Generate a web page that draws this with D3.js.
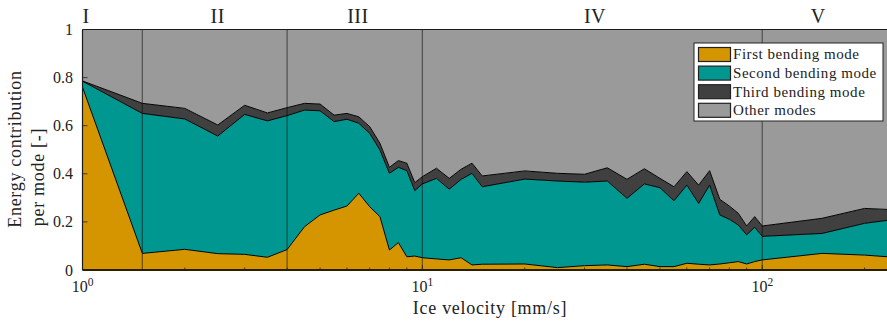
<!DOCTYPE html>
<html>
<head>
<meta charset="utf-8">
<script src="https://cdn.jsdelivr.net/npm/d3@7"></script>
<style>
  html, body { margin: 0; padding: 0; background: #fff; }
  svg { display: block; }
  text { font-family: "Liberation Serif", "DejaVu Serif", serif; fill: #222; }
</style>
</head>
<body>
<svg id="chart" width="887" height="322"></svg>
<script>
// Ice velocity samples [mm/s]
const velocity = [1, 1.5, 2, 2.5, 3, 3.5, 4, 4.5, 5, 5.5, 6, 6.5, 7, 7.5, 8, 8.5, 9, 9.5,
  10, 11, 12, 13, 14, 15, 20, 25, 30, 35, 40, 45, 50, 55, 60, 65, 70, 75, 80, 85, 90, 95,
  100, 150, 200, 250];

// Energy contribution per mode [-]
const firstMode = [0.760, 0.069, 0.086, 0.068, 0.065, 0.053, 0.085, 0.180, 0.229, 0.249, 0.266, 0.319,
  0.263, 0.222, 0.083, 0.114, 0.055, 0.058, 0.051, 0.046, 0.042, 0.051, 0.021, 0.024, 0.025,
  0.010, 0.018, 0.021, 0.014, 0.024, 0.014, 0.014, 0.028, 0.024, 0.021, 0.025, 0.030, 0.035,
  0.025, 0.035, 0.042, 0.069, 0.062, 0.052];
const secondMode = [0.025, 0.582, 0.542, 0.489, 0.582, 0.567, 0.557, 0.485, 0.433, 0.368, 0.361, 0.291,
  0.305, 0.277, 0.319, 0.313, 0.358, 0.272, 0.307, 0.335, 0.294, 0.326, 0.381, 0.322, 0.353,
  0.360, 0.347, 0.349, 0.284, 0.334, 0.328, 0.274, 0.325, 0.253, 0.332, 0.204, 0.181, 0.152,
  0.121, 0.143, 0.098, 0.083, 0.132, 0.160];
const thirdMode = [0.001, 0.042, 0.044, 0.046, 0.038, 0.033, 0.033, 0.028, 0.028, 0.027, 0.024, 0.027,
  0.028, 0.028, 0.025, 0.028, 0.031, 0.033, 0.030, 0.042, 0.045, 0.042, 0.042, 0.045, 0.034,
  0.032, 0.033, 0.055, 0.079, 0.063, 0.039, 0.058, 0.056, 0.076, 0.060, 0.065, 0.055, 0.049,
  0.037, 0.044, 0.043, 0.063, 0.062, 0.038];
const otherModes = [0.214, 0.307, 0.328, 0.397, 0.315, 0.347, 0.325, 0.307, 0.310, 0.356, 0.349, 0.363,
  0.404, 0.473, 0.573, 0.545, 0.556, 0.637, 0.612, 0.577, 0.619, 0.581, 0.556, 0.609, 0.588,
  0.598, 0.602, 0.575, 0.623, 0.579, 0.619, 0.654, 0.591, 0.647, 0.587, 0.706, 0.734, 0.764,
  0.817, 0.778, 0.817, 0.785, 0.744, 0.750];

const seriesNames = ["First bending mode", "Second bending mode", "Third bending mode", "Other modes"];
const seriesColors = ["#d49500", "#009790", "#404040", "#9a9a9a"];

// Regime boundaries and regime labels
const regimeBounds = [1.5, 4, 10, 100];
const regimeLabels = ["I", "II", "III", "IV", "V"];
const regimeLabelAt = [1.024, 2.5, 6.46, 32.2, 146];

const yTicks = [0, 0.2, 0.4, 0.6, 0.8, 1];
const yTickLabels = ["0", "0.2", "0.4", "0.6", "0.8", "1"];
const xTicks = [1, 10, 100];
const xTickExp = ["0", "1", "2"];

const svg = d3.select("#chart");
const pLeft = 82.5, pRight = 897.5, pTop = 29.5, pBottom = 270;

const x = d3.scaleLog().domain([1, 250]).range([pLeft, pRight]);
const y = d3.scaleLinear().domain([0, 1]).range([pBottom, pTop]);

const rows = velocity.map((v, i) => ({
  v, s0: firstMode[i], s1: secondMode[i], s2: thirdMode[i], s3: otherModes[i]
}));
const keys = ["s0", "s1", "s2", "s3"];
const stacked = d3.stack().keys(keys)(rows);

svg.append("defs").append("clipPath").attr("id", "plotclip")
  .append("rect").attr("x", pLeft).attr("y", pTop).attr("width", pRight - pLeft).attr("height", pBottom - pTop);

const plot = svg.append("g").attr("clip-path", "url(#plotclip)");

const area = d3.area()
  .x(d => x(d.data.v))
  .y0(d => y(d[0]))
  .y1(d => y(d[1]));

plot.selectAll("path.layer")
  .data(stacked)
  .join("path")
  .attr("class", "layer")
  .attr("d", area)
  .attr("fill", (d, i) => seriesColors[i]);

// Boundary lines between stacked layers
const edge = d3.line().x(d => x(d.data.v)).y(d => y(d[1]));
plot.selectAll("path.edge")
  .data(stacked.slice(0, 3))
  .join("path")
  .attr("class", "edge")
  .attr("d", edge)
  .attr("fill", "none")
  .attr("stroke", "#000")
  .attr("stroke-width", 1)
  .attr("stroke-linejoin", "round");

// Regime boundaries
plot.selectAll("line.regime")
  .data(regimeBounds)
  .join("line")
  .attr("class", "regime")
  .attr("x1", d => x(d)).attr("x2", d => x(d))
  .attr("y1", pTop).attr("y2", pBottom)
  .attr("stroke", "#000")
  .attr("stroke-opacity", 0.45)
  .attr("stroke-width", 1.3);

// Frame
svg.append("line").attr("x1", pLeft).attr("x2", 887).attr("y1", pTop).attr("y2", pTop)
  .attr("stroke", "#1a1a1a").attr("stroke-width", 1.2);
svg.append("line").attr("x1", pLeft).attr("x2", pLeft).attr("y1", pTop).attr("y2", pBottom)
  .attr("stroke", "#1a1a1a").attr("stroke-width", 1.2);
svg.append("line").attr("x1", pLeft).attr("x2", 887).attr("y1", pBottom).attr("y2", pBottom)
  .attr("stroke", "#2a1f00").attr("stroke-width", 2);

// Minor log ticks along the bottom
const minor = [];
[1, 10, 100].forEach(dec => { for (let k = 2; k <= 9; k++) if (dec * k <= 250) minor.push(dec * k); });
svg.selectAll("line.minor").data(minor).join("line").attr("class", "minor")
  .attr("x1", d => x(d)).attr("x2", d => x(d))
  .attr("y1", pBottom).attr("y2", pBottom - 2.5)
  .attr("stroke", "#222").attr("stroke-width", 0.8);
svg.selectAll("line.major").data(xTicks).join("line").attr("class", "major")
  .attr("x1", d => x(d)).attr("x2", d => x(d))
  .attr("y1", pBottom).attr("y2", pBottom - 5)
  .attr("stroke", "#222").attr("stroke-width", 0.8);
svg.selectAll("line.ytick").data(yTicks).join("line").attr("class", "ytick")
  .attr("x1", pLeft).attr("x2", pLeft + 5)
  .attr("y1", d => y(d)).attr("y2", d => y(d))
  .attr("stroke", "#222").attr("stroke-width", 0.8);

// Y tick labels
svg.selectAll("text.ylab").data(yTicks).join("text").attr("class", "ylab")
  .attr("x", 73).attr("y", d => y(d) + 5.5)
  .attr("text-anchor", "end")
  .attr("font-size", 16)
  .text((d, i) => yTickLabels[i]);

// X tick labels (powers of ten)
const xl = svg.selectAll("text.xlab").data(xTicks).join("text").attr("class", "xlab")
  .attr("x", d => x(d)).attr("y", 292)
  .attr("text-anchor", "middle")
  .attr("font-size", 16);
xl.append("tspan").text("10");
xl.append("tspan").attr("dy", -6.5).attr("font-size", 11.5).text((d, i) => xTickExp[i]);

// Axis titles
svg.append("text").attr("x", (pLeft + pRight) / 2).attr("y", 314)
  .attr("text-anchor", "middle").attr("font-size", 18).attr("letter-spacing", 0.7)
  .text("Ice velocity [mm/s]");
svg.append("text").attr("transform", "translate(21,149) rotate(-90)")
  .attr("text-anchor", "middle").attr("font-size", 18).attr("letter-spacing", 0.7)
  .text("Energy contribution");
svg.append("text").attr("transform", "translate(44,177) rotate(-90)")
  .attr("text-anchor", "middle").attr("font-size", 18).attr("letter-spacing", 0.7)
  .text("per mode [-]");

// Regime labels
svg.selectAll("text.regime").data(regimeLabels).join("text").attr("class", "regime")
  .attr("x", (d, i) => x(regimeLabelAt[i])).attr("y", 23)
  .attr("text-anchor", "middle").attr("font-size", 20).attr("letter-spacing", 0.5)
  .text(d => d);

// Legend
const lg = svg.append("g").attr("transform", "translate(694,43)");
lg.append("rect").attr("x", 0).attr("y", 0).attr("width", 189).attr("height", 78)
  .attr("fill", "#fff").attr("stroke", "#222").attr("stroke-width", 1);
seriesNames.forEach((name, i) => {
  const row = lg.append("g").attr("transform", `translate(0,${4.5 + i * 18.6})`);
  row.append("rect").attr("x", 4.5).attr("y", 0).attr("width", 32).attr("height", 14)
    .attr("fill", seriesColors[i]).attr("stroke", "#222").attr("stroke-width", 1.2);
  row.append("text").attr("x", 39).attr("y", 11.8)
    .attr("font-size", 15).attr("letter-spacing", 0.55).text(name);
});
</script>
</body>
</html>
